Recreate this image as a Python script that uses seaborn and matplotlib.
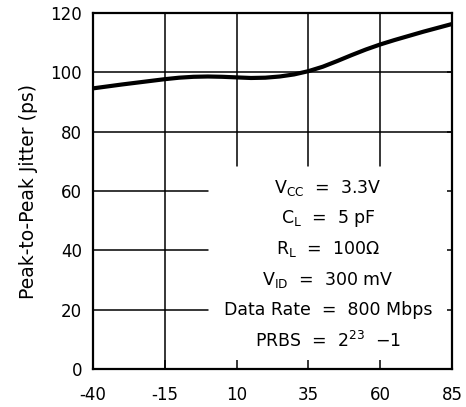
import numpy as np
import pandas as pd
import matplotlib
matplotlib.use("Agg")
import matplotlib.pyplot as plt
import seaborn as sns

# Jitter vs free-air temperature
temp_c = [-40, -30, -20, -15, -10, -5, 0, 5, 10, 15, 20, 25, 30, 35,
          40, 45, 50, 55, 60, 65, 70, 75, 80, 85]
jitter_ps = [94.6, 95.9, 97.1, 97.7, 98.2, 98.5, 98.6, 98.5, 98.3, 98.1, 98.2, 98.6, 99.3, 100.4,
             101.9, 103.8, 105.8, 107.7, 109.4, 110.9, 112.3, 113.7, 115.0, 116.3]

x_ticks = [-40, -15, 10, 35, 60, 85]
y_ticks = [0, 20, 40, 60, 80, 100, 120]

conditions = [
    r"V$_{\mathregular{CC}}$  =  3.3V",
    r"C$_{\mathregular{L}}$  =  5 pF",
    r"R$_{\mathregular{L}}$  =  100$\mathregular{\Omega}$",
    r"V$_{\mathregular{ID}}$  =  300 mV",
    "Data Rate  =  800 Mbps",
    r"PRBS  =  2$^{\mathregular{23}}$  $\mathregular{-}$1",
]

df = pd.DataFrame({"Temperature": temp_c, "Jitter": jitter_ps})

sns.set_style("white")
plt.rcParams["font.family"] = ["DejaVu Sans"]
plt.rcParams["font.size"] = 12
plt.rcParams["text.color"] = "black"
plt.rcParams["axes.labelcolor"] = "black"
plt.rcParams["xtick.color"] = "black"
plt.rcParams["ytick.color"] = "black"
plt.rcParams["axes.unicode_minus"] = False

fig = plt.figure(figsize=(4.66, 4.07), dpi=100)
ax = fig.add_axes([0.1996, 0.0934, 0.7704, 0.8746])

# grid, cut away where the condition text sits
box_x, box_y = 0, 68.4
for y in y_ticks[1:-1]:
    x_end = box_x if y < box_y else 85
    ax.plot([-40, x_end], [y, y], color="black", lw=1.1, zorder=1)
for x in x_ticks[1:-1]:
    y_start = box_y if x > box_x else 0
    ax.plot([x, x], [y_start, 120], color="black", lw=1.1, zorder=1)

sns.lineplot(data=df, x="Temperature", y="Jitter", color="black", lw=3, ax=ax, zorder=3,
             solid_joinstyle="round")

ax.set_xlim(-40, 85)
ax.set_ylim(0, 120)
ax.set_xticks(x_ticks)
ax.set_yticks(y_ticks)
ax.set_xlabel("")
ax.set_ylabel("Peak-to-Peak Jitter (ps)", fontsize=13.5, labelpad=9)

ax.tick_params(axis="x", direction="in", length=6.5, width=1.1, pad=12, bottom=True, top=False)
ax.tick_params(axis="y", direction="in", length=3.6, width=1.1, pad=8, left=False, right=True,
               labelleft=True, labelright=False)
for s in ax.spines.values():
    s.set_linewidth(1.6)
    s.set_color("black")
    s.set_zorder(4)

for i, line in enumerate(conditions):
    ax.text(41.8, 61.0 - i * 10.3, line, ha="center", va="center", fontsize=12.5)

fig.savefig("out.png", dpi=100)
